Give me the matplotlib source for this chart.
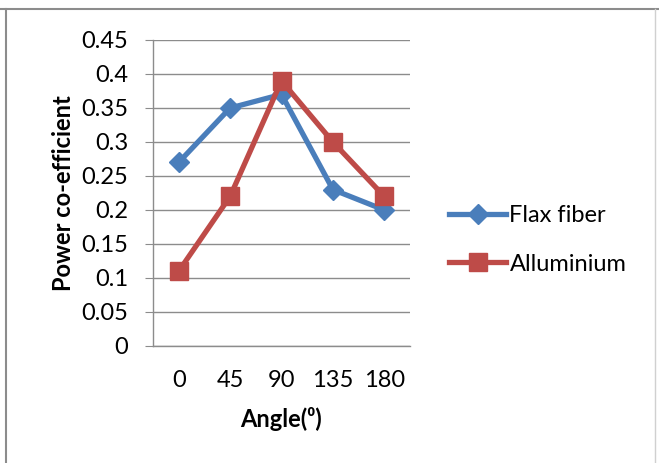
import matplotlib
matplotlib.use("Agg")
import matplotlib.pyplot as plt
from matplotlib.lines import Line2D

plt.rcParams['font.family'] = ['Lato', 'DejaVu Sans']

angles = ["0", "45", "90", "135", "180"]
flax = [0.27, 0.35, 0.37, 0.23, 0.20]
alu = [0.11, 0.22, 0.39, 0.30, 0.22]
yticks = [0, 0.05, 0.1, 0.15, 0.2, 0.25, 0.3, 0.35, 0.4, 0.45]
ytick_labels = ["0", "0.05", "0.1", "0.15", "0.2", "0.25", "0.3", "0.35", "0.4", "0.45"]

W, H = 659, 463
fig = plt.figure(figsize=(W/100, H/100), dpi=100)
ax = fig.add_axes([153/W, 1-346/H, (410-153)/W, (346-40)/H])

blue = "#4A7EBB"
red = "#BE4B48"
FS = 17
x = range(len(angles))
ax.plot(x, flax, color=blue, lw=3.8, marker="D", ms=10, mec=blue, mfc=blue,
        solid_capstyle="round", label="Flax fiber", zorder=3)
ax.plot(x, alu, color=red, lw=3.8, marker="s", ms=13, mec=red, mfc=red,
        solid_capstyle="round", label="Alluminium", zorder=3)

ax.set_xlim(-0.5, 4.5)
ax.set_ylim(0, 0.45)
ax.set_yticks(yticks)
ax.set_yticklabels(ytick_labels)
ax.set_xticks(list(x))
ax.set_xticklabels(angles)
ax.grid(axis="y", color="#8c8c8c", lw=1)
ax.set_axisbelow(True)
for s in ["top", "right"]:
    ax.spines[s].set_visible(False)
for s in ["left", "bottom"]:
    ax.spines[s].set_color("#8c8c8c")
    ax.spines[s].set_linewidth(1)
ax.tick_params(axis="y", length=6, color="#8c8c8c", labelsize=FS, pad=12)
ax.tick_params(axis="x", length=0, labelsize=FS, pad=17)

ax.set_xlabel("Angle(⁰)", fontsize=FS, fontweight="bold", labelpad=12)
ax.set_ylabel("Power co-efficient", fontsize=FS, fontweight="bold", labelpad=4)

handles = [Line2D([0], [0], color=blue, lw=3.8, marker="D", ms=10),
           Line2D([0], [0], color=red, lw=3.8, marker="s", ms=13)]
fig.legend(handles, ["Flax fiber", "Alluminium"], loc="center left",
           bbox_to_anchor=(428/W, 1-240/H), frameon=False, fontsize=FS,
           handlelength=2.4, handletextpad=0.15, labelspacing=1.15)

# chart border
fig.add_artist(Line2D([0, 1], [1-9/H, 1-9/H], transform=fig.transFigure, color="#8c8c8c", lw=1.5))
fig.add_artist(Line2D([6/W, 6/W], [0, 1-9/H], transform=fig.transFigure, color="#8c8c8c", lw=1.5))
fig.add_artist(Line2D([655/W, 655/W], [0, 1-9/H], transform=fig.transFigure, color="#d0d0d0", lw=1))

fig.savefig("out.png", dpi=100)
